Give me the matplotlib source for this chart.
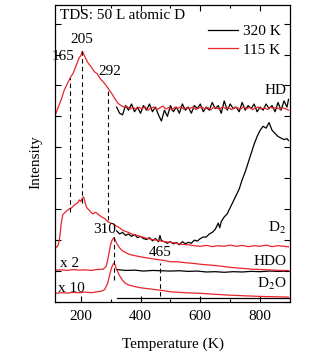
import numpy as np
import matplotlib
matplotlib.use("Agg")
import matplotlib.pyplot as plt

plt.rcParams['font.family'] = ['Liberation Serif', 'DejaVu Serif']
plt.rcParams['mathtext.fontset'] = 'stix'

# ---------------- data (offset units) ----------------
# HD, 115 K (red)
hd_115_T = [115, 125, 135, 145, 155, 165, 175, 185, 195, 200, 205, 210, 215, 225, 235, 245,
            255, 265, 275, 285, 295, 305, 315, 325, 335, 345, 355, 365, 375, 385, 395,
            405, 415, 425, 435, 445, 455, 465, 475, 485, 495, 505, 515, 525, 535, 545,
            555, 565, 575, 585, 595, 605, 615, 625, 635, 645, 655, 665, 675, 685, 695,
            705, 715, 725, 735, 745, 755, 765, 775, 785, 795, 805, 815, 825, 835, 845,
            855, 865, 875, 885, 895]
hd_115 = [6.05, 6.3, 6.55, 6.85, 7.05, 7.25, 7.4, 7.65, 7.9, 7.95, 8.1, 8.02, 7.9, 7.72, 7.6, 7.45,
          7.38, 7.22, 7.12, 7.0, 6.86, 6.72, 6.56, 6.42, 6.35, 6.3, 6.32, 6.24, 6.3, 6.22, 6.29,
          6.25, 6.31, 6.2, 6.27, 6.3, 6.22, 6.28, 6.33, 6.24, 6.29, 6.2, 6.3, 6.26, 6.32, 6.23,
          6.28, 6.25, 6.31, 6.22, 6.27, 6.3, 6.24, 6.29, 6.21, 6.3, 6.26, 6.23, 6.31, 6.25, 6.28,
          6.22, 6.3, 6.27, 6.24, 6.31, 6.25, 6.29, 6.22, 6.28, 6.3, 6.24, 6.27, 6.22, 6.3, 6.26,
          6.29, 6.23, 6.28, 6.25, 6.2]

# HD, 320 K (black)
hd_320_T = [320, 330, 340, 350, 360, 370, 380, 390, 400, 410, 420, 430, 440, 450, 460, 470,
            480, 490, 500, 510, 520, 530, 540, 550, 560, 570, 580, 590, 600, 610, 620, 630,
            640, 650, 660, 670, 680, 690, 700, 710, 720, 730, 740, 750, 760, 770, 780, 790,
            800, 810, 820, 830, 840, 850, 860, 870, 880, 890, 895]
hd_320 = [6.3, 6.1, 6.05, 6.35, 6.2, 6.4, 6.15, 6.3, 6.1, 6.35, 6.2, 6.4, 6.15, 6.3, 6.05, 5.85,
          6.2, 6.0, 6.35, 6.15, 6.3, 6.1, 6.4, 6.2, 6.3, 6.1, 6.35, 6.25, 6.4, 6.15, 6.3, 6.2,
          6.45, 6.25, 6.35, 6.1, 6.5, 6.2, 6.4, 6.25, 6.3, 6.15, 6.45, 6.2, 6.35, 6.25, 6.4, 6.15,
          6.3, 6.2, 6.4, 6.25, 6.35, 6.15, 6.45, 6.2, 6.5, 6.3, 6.55]

# D2, 115 K (red)
d2_115_T = [115, 120, 125, 130, 135, 140, 150, 160, 170, 180, 190, 195, 200, 205, 210, 215,
            220, 230, 240, 250, 260, 270, 280, 290, 300, 310, 320, 330, 340, 350, 360, 370,
            380, 390, 400, 420, 440, 460, 480, 500, 520, 540, 560, 580, 600, 620, 640, 660,
            680, 700, 720, 740, 760, 780, 800, 820, 840, 860, 880, 895]
d2_115 = [1.75, 1.78, 1.85, 2.1, 2.55, 2.82, 2.92, 3.0, 3.05, 3.15, 3.2, 3.3, 3.25, 3.35, 3.4, 3.2,
          3.05, 2.95, 2.85, 2.9, 2.82, 2.75, 2.7, 2.6, 2.55, 2.52, 2.45, 2.4, 2.32, 2.28, 2.25, 2.2,
          2.18, 2.15, 2.12, 2.06, 2.02, 1.99, 1.95, 1.93, 1.9, 1.86, 1.85, 1.82, 1.8, 1.83, 1.79, 1.82,
          1.8, 1.84, 1.8, 1.83, 1.79, 1.82, 1.8, 1.84, 1.79, 1.82, 1.8, 1.78]

# D2, 320 K (black)
d2_320_T = [320, 330, 340, 350, 360, 370, 380, 390, 400, 410, 420, 430, 440, 450, 460, 465,
            470, 480, 490, 500, 510, 520, 530, 540, 550, 560, 570, 580, 590, 600, 610, 620,
            630, 640, 650, 660, 665, 670, 680, 690, 700, 710, 720, 730, 740, 750, 760, 770,
            780, 790, 800, 810, 820, 830, 840, 850, 860, 870, 880, 890, 895]
d2_320 = [2.3, 2.2, 2.25, 2.15, 2.2, 2.12, 2.18, 2.08, 2.12, 2.05, 2.02, 2.08, 1.98, 2.05, 1.95, 2.15,
          1.98, 1.95, 1.9, 1.95, 1.88, 1.92, 1.85, 1.95, 1.88, 1.93, 1.9, 2.0, 1.97, 2.05, 2.1, 2.1,
          2.2, 2.25, 2.35, 2.55, 2.4, 2.6, 2.75, 2.85, 3.05, 3.25, 3.45, 3.65, 3.95, 4.2, 4.5, 4.8,
          5.1, 5.35, 5.55, 5.68, 5.62, 5.8, 5.55, 5.45, 5.35, 5.3, 5.25, 5.28, 5.22]

# HDO x2, 115 K (red)
hdo_115_T = [115, 135, 155, 175, 195, 215, 235, 255, 275, 285, 290, 295, 300, 305, 310, 315,
             320, 330, 340, 350, 360, 370, 380, 400, 425, 450, 475, 500, 525, 550, 575, 600,
             625, 650, 675, 700, 725, 750, 775, 800, 825, 850, 875, 895]
hdo_115 = [1.03, 1.04, 1.02, 1.05, 1.03, 1.04, 1.02, 1.05, 1.06, 1.15, 1.35, 1.6, 1.85, 2.0, 2.07, 2.02,
           1.9, 1.75, 1.65, 1.6, 1.55, 1.52, 1.5, 1.46, 1.42, 1.38, 1.35, 1.3, 1.3, 1.27, 1.25, 1.22,
           1.2, 1.18, 1.15, 1.12, 1.1, 1.08, 1.06, 1.05, 1.04, 1.03, 1.02, 1.02]

# HDO x2, 320 K (black)
hdo_320_T = [320, 350, 380, 410, 440, 470, 500, 530, 560, 590, 620, 650, 680, 710, 740, 770,
             800, 830, 860, 895]
hdo_320 = [1.05, 1.02, 1.03, 1.0, 1.02, 1.01, 1.0, 1.01, 0.99, 1.0, 0.97, 0.98, 0.96, 0.98, 0.97, 0.99,
           0.98, 1.0, 0.99, 1.0]

# D2O x10, 115 K (red)
d2o_115_T = [115, 135, 155, 175, 195, 215, 235, 255, 270, 280, 290, 295, 300, 305, 310, 315,
             320, 330, 340, 350, 360, 380, 400, 425, 450, 475, 500, 550, 600, 650, 700, 750,
             800, 850, 895]
d2o_115 = [0.28, 0.3, 0.29, 0.31, 0.3, 0.32, 0.3, 0.33, 0.35, 0.4, 0.6, 0.8, 1.0, 1.15, 1.25, 1.2,
           1.05, 0.85, 0.7, 0.6, 0.55, 0.5, 0.46, 0.43, 0.4, 0.37, 0.33, 0.3, 0.28, 0.25, 0.22, 0.2,
           0.18, 0.17, 0.16]

# D2O x10, 320 K (black)
d2o_320_T = [320, 400, 500, 600, 700, 800, 895]
d2o_320 = [0.13, 0.13, 0.13, 0.13, 0.13, 0.13, 0.13]

# dashed markers: (temperature, y from, y to)
mark_T = [165, 205, 292, 310, 465]
mark_lo = [2.91, 3.2, 2.65, 0.71, 0.2]
mark_hi = [7.25, 8.16, 6.86, 2.23, 1.26]
mark_lab = ["165", "205", "292", "310", "465"]
mark_lab_x = [142, 203, 296, 280, 467]
mark_lab_y = [7.93, 8.48, 7.44, 2.33, 1.59]

# ---------------- figure ----------------
fig = plt.figure(figsize=(3.22, 3.57), dpi=100)
ax = fig.add_axes([55/322, 1-302/357, 235/322, 297/357])

red = '#e8262a'
lw = 0.9
ax.plot(hd_320_T, hd_320, color='black', lw=lw, label='320 K')
ax.plot(hd_115_T, hd_115, color=red, lw=lw, label='115 K')
ax.plot(d2_320_T, d2_320, color='black', lw=lw)
ax.plot(d2_115_T, d2_115, color=red, lw=lw)
ax.plot(hdo_320_T, hdo_320, color='black', lw=lw)
ax.plot(hdo_115_T, hdo_115, color=red, lw=lw)
ax.plot(d2o_320_T, d2o_320, color='black', lw=lw)
ax.plot(d2o_115_T, d2o_115, color=red, lw=lw)

for t, lo, hi in zip(mark_T, mark_lo, mark_hi):
    ax.plot([t, t], [lo, hi], color='black', lw=0.8, ls=(0, (4, 3)))
for lab, x, y in zip(mark_lab, mark_lab_x, mark_lab_y):
    ax.text(x, y, lab, ha='center', va='center', fontsize=11)

fs = 11
ax.text(0.02, 0.965, "TDS: 50 L atomic D", transform=ax.transAxes, ha='left', va='center', fontsize=fs)
ax.text(888, 6.85, "HD", ha='right', va='center', fontsize=fs)
ax.text(888, 2.4, "D$_2$", ha='right', va='center', fontsize=fs)
ax.text(888, 1.3, "HDO", ha='right', va='center', fontsize=fs)
ax.text(888, 0.58, "D$_2$O", ha='right', va='center', fontsize=fs)
ax.text(130, 1.25, "x 2", ha='left', va='center', fontsize=fs)
ax.text(125, 0.45, "x 10", ha='left', va='center', fontsize=fs)

ax.set_xlim(114, 900)
ax.set_ylim(0, 9.6)
ax.set_xticks([200, 400, 600, 800])
ax.set_xticks([300, 500, 700], minor=True)
ax.set_yticks(np.arange(0, 10, 1))
ax.set_yticklabels([])
ax.tick_params(direction='in', which='both', top=True, right=True, labelsize=fs, length=4, width=0.8, pad=6)
ax.tick_params(which='minor', length=2.5)
for s in ax.spines.values():
    s.set_linewidth(0.9)

ax.set_xlabel("Temperature (K)", fontsize=fs, labelpad=10)
ax.set_ylabel("Intensity", fontsize=fs)
ax.yaxis.set_label_coords(-0.055, 0.47)

ax.legend(loc='upper right', bbox_to_anchor=(1.0, 0.965), frameon=False, fontsize=fs,
          handlelength=2.0, handletextpad=0.3, labelspacing=0.3, borderaxespad=0.2)

fig.savefig("out.png", dpi=100)
